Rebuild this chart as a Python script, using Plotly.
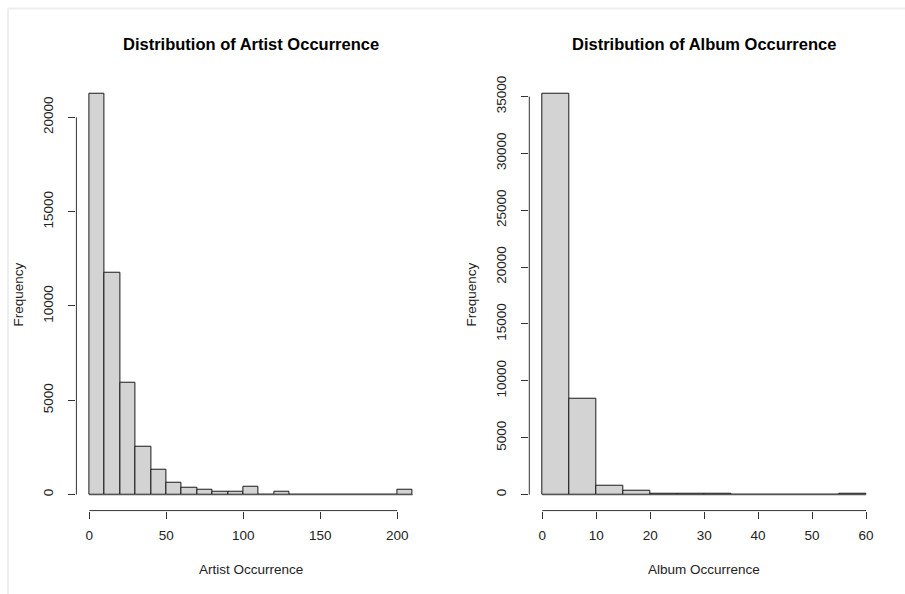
import plotly.graph_objects as go
from plotly.subplots import make_subplots

# Histogram bins (breaks) and counts for each panel
artist_breaks = list(range(0, 211, 10))
artist_counts = [21250, 11760, 5940, 2560, 1340, 620, 335, 230, 175, 175,
                 423, 0, 140, 0, 0, 0, 0, 0, 0, 0, 230]
album_breaks = list(range(0, 61, 5))
album_counts = [35240, 8460, 764, 300, 110, 80, 60, 0, 0, 0, 0, 80]

artist_xticks = [0, 50, 100, 150, 200]
artist_yticks = [0, 5000, 10000, 15000, 20000]
album_xticks = [0, 10, 20, 30, 40, 50, 60]
album_yticks = [0, 5000, 10000, 15000, 20000, 25000, 30000, 35000]

titles = ["Distribution of Artist Occurrence", "Distribution of Album Occurrence"]
xlabels = ["Artist Occurrence", "Album Occurrence"]
ylabel = "Frequency"

W, H = 905, 594
FONT = "Liberation Sans, Arial, sans-serif"
FS = 13.5

fig = make_subplots(rows=1, cols=2)

# plot regions in pixels (left, right, top, bottom)
regions = [(76.4, 425.6, 76.0, 510.3), (529.3, 879.0, 76.0, 510.3)]


def padded(lo, hi):
    d = (hi - lo) * 0.04
    return [lo - d, hi + d]


panels = [
    (artist_breaks, artist_counts, artist_xticks, artist_yticks),
    (album_breaks, album_counts, album_xticks, album_yticks),
]

shapes = []
annotations = []
for i, (breaks, counts, xt, yt) in enumerate(panels):
    col = i + 1
    centers = [(a + b) / 2 for a, b in zip(breaks[:-1], breaks[1:])]
    widths = [b - a for a, b in zip(breaks[:-1], breaks[1:])]
    # zero-height cells still show as an outline along the baseline
    fig.add_trace(go.Scatter(x=[breaks[0], breaks[-1]], y=[0, 0], mode="lines",
                             line=dict(color="#555555", width=1.2),
                             hoverinfo="skip", showlegend=False), row=1, col=col)
    fig.add_trace(go.Bar(x=centers, y=counts, width=widths,
                         marker=dict(color="#D3D3D3", line=dict(color="#1a1a1a", width=1)),
                         showlegend=False), row=1, col=col)

    l, r, t, b = regions[i]
    xa = "xaxis" if i == 0 else "xaxis2"
    ya = "yaxis" if i == 0 else "yaxis2"
    axis_common = dict(showgrid=False, zeroline=False, showline=False,
                       ticks="outside", ticklen=7, tickwidth=1, tickcolor="#333333",
                       tickfont=dict(family=FONT, size=FS, color="#222222"))
    fig.layout[xa].update(domain=[l / W, r / W], range=padded(breaks[0], breaks[-1]),
                          tickvals=xt, ticktext=[str(v) for v in xt],
                          ticklabelstandoff=5, **axis_common)
    fig.layout[ya].update(domain=[1 - b / H, 1 - t / H], range=padded(0, max(counts)),
                          tickvals=yt, ticktext=[str(v) for v in yt], tickangle=-90,
                          ticklabelstandoff=10, **axis_common)

    xref = "x" if i == 0 else "x2"
    yref = "y" if i == 0 else "y2"
    # axis lines spanning only the tick range
    shapes.append(dict(type="line", xref=xref + " domain", yref=yref,
                       x0=0, x1=0, y0=yt[0], y1=yt[-1],
                       line=dict(color="#333333", width=1)))
    shapes.append(dict(type="line", xref=xref, yref=yref + " domain",
                       x0=xt[0], x1=xt[-1], y0=0, y1=0,
                       line=dict(color="#333333", width=1)))

    cx = (l + r) / 2 / W
    annotations.append(dict(text="<b>" + titles[i] + "</b>", xref="paper", yref="paper",
                            x=cx, y=1 - 42 / H, xanchor="center", yanchor="middle",
                            showarrow=False, font=dict(family=FONT, size=16.5, color="#000000")))
    annotations.append(dict(text=xlabels[i], xref="paper", yref="paper",
                            x=cx, y=1 - 569 / H, xanchor="center", yanchor="middle",
                            showarrow=False, font=dict(family=FONT, size=FS, color="#222222")))
    annotations.append(dict(text=ylabel, xref="paper", yref="paper",
                            x=(l - 58) / W, y=1 - (t + b) / 2 / H, xanchor="center",
                            yanchor="middle", textangle=-90,
                            showarrow=False, font=dict(family=FONT, size=FS, color="#222222")))

# light frame around the output area
shapes.append(dict(type="line", xref="paper", yref="paper", x0=8 / W, x1=1,
                   y0=1 - 6.5 / H, y1=1 - 6.5 / H, line=dict(color="#eeeeee", width=2)))
shapes.append(dict(type="line", xref="paper", yref="paper", x0=8 / W, x1=8 / W,
                   y0=0, y1=1 - 6.5 / H, line=dict(color="#eeeeee", width=2)))

fig.update_layout(width=W, height=H, autosize=False,
                  margin=dict(l=0, r=0, t=0, b=0),
                  paper_bgcolor="white", plot_bgcolor="white",
                  bargap=0, shapes=shapes, annotations=annotations)

fig.write_html("out.html")
